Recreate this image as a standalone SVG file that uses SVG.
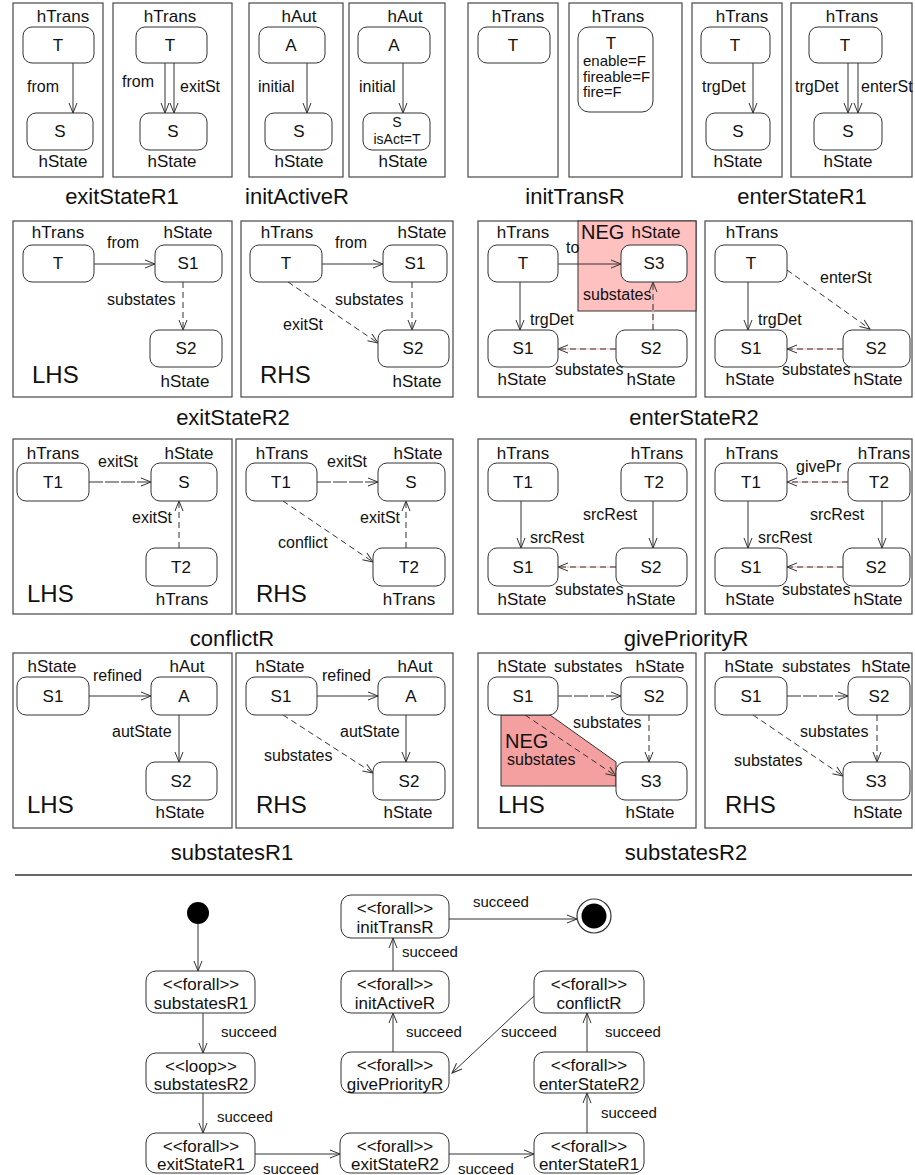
<svg xmlns="http://www.w3.org/2000/svg" width="915" height="1175" viewBox="0 0 915 1175">
<style>
text{font-family:"Liberation Sans",Arial,sans-serif;fill:#111}
.fr{fill:#fff;stroke:#555;stroke-width:1.3}
.nd{fill:#fff;stroke:#333;stroke-width:1}
.ty{font-size:17px;text-anchor:middle}
.lb{font-size:16px}
.at{font-size:15px}
.nl{font-size:17px;text-anchor:middle}
.cap{font-size:22px;text-anchor:middle}
.side{font-size:24px}
.neg{font-size:20px}
.e{fill:none;stroke:#333;stroke-width:1;marker-end:url(#arr)}
.d{stroke-dasharray:6 4}
.ld{stroke-dasharray:14 2}
.pk{fill:none;stroke:#f2b4b4;stroke-width:1}
.fn{font-size:17px;text-anchor:middle}
.sc{font-size:15px}
</style>
<defs>
<marker id="arr" markerWidth="13" markerHeight="10" refX="11" refY="5" orient="auto" markerUnits="userSpaceOnUse">
<path d="M1,1 L11,5 L1,9" fill="none" stroke="#333" stroke-width="1"/>
</marker>
</defs>
<rect width="915" height="1175" fill="#fff"/>

<g id="frames">
<rect class="fr" x="13" y="3" width="90" height="174"/>
<rect class="fr" x="113" y="3" width="119" height="174"/>
<rect class="fr" x="249" y="3" width="94" height="174"/>
<rect class="fr" x="349" y="3" width="96" height="174"/>
<rect class="fr" x="468" y="3" width="90" height="174"/>
<rect class="fr" x="569" y="3" width="113" height="174"/>
<rect class="fr" x="692" y="3" width="90" height="174"/>
<rect class="fr" x="791" y="3" width="121" height="174"/>
<rect class="fr" x="13" y="221" width="219" height="176"/>
<rect class="fr" x="241" y="221" width="212" height="176"/>
<rect class="fr" x="478" y="221" width="218" height="176"/>
<rect class="fr" x="705" y="221" width="207" height="176"/>
<rect class="fr" x="13" y="439" width="219" height="175"/>
<rect class="fr" x="236" y="439" width="217" height="175"/>
<rect class="fr" x="478" y="439" width="218" height="175"/>
<rect class="fr" x="705" y="439" width="207" height="175"/>
<rect class="fr" x="13" y="653" width="219" height="175"/>
<rect class="fr" x="236" y="653" width="217" height="175"/>
<rect class="fr" x="478" y="653" width="218" height="175"/>
<rect class="fr" x="705" y="653" width="207" height="175"/>
<rect x="578" y="221" width="118" height="90" fill="#ffc0c0" stroke="#333" stroke-width="1"/>
<polygon points="501,715 550,715 616,762 616,786 501,786" fill="#f4a0a0" stroke="#333" stroke-width="1"/>
<line x1="15" y1="875" x2="912" y2="875" stroke="#333" stroke-width="1.3"/>
</g>

<g id="captions">
<text class="cap" x="122" y="204">exitStateR1</text>
<text class="cap" x="297" y="204">initActiveR</text>
<text class="cap" x="575" y="204">initTransR</text>
<text class="cap" x="802" y="204">enterStateR1</text>
<text class="cap" x="233" y="425">exitStateR2</text>
<text class="cap" x="694" y="425">enterStateR2</text>
<text class="cap" x="232" y="646">conflictR</text>
<text class="cap" x="686" y="646">givePriorityR</text>
<text class="cap" x="232" y="860">substatesR1</text>
<text class="cap" x="686" y="860">substatesR2</text>
<text class="side" x="32" y="383">LHS</text>
<text class="side" x="260" y="383">RHS</text>
<text class="side" x="27" y="602">LHS</text>
<text class="side" x="256" y="602">RHS</text>
<text class="side" x="27" y="813">LHS</text>
<text class="side" x="256" y="813">RHS</text>
<text class="side" x="498" y="813">LHS</text>
<text class="side" x="725" y="813">RHS</text>
<text class="neg" x="581" y="239">NEG</text>
<text class="neg" x="505" y="748">NEG</text>
</g>

<g id="connectors">
<line class="e" x1="73" y1="63" x2="73" y2="113"/>
<text class="lb" x="27" y="92">from</text>
<line class="e" x1="165" y1="63" x2="165" y2="113"/>
<line class="e" x1="174" y1="63" x2="174" y2="113"/>
<text class="lb" x="122" y="87">from</text>
<text class="lb" x="180" y="92">exitSt</text>
<line class="e" x1="307" y1="63" x2="307" y2="113"/>
<text class="lb" x="258" y="92">initial</text>
<line class="e" x1="403" y1="63" x2="403" y2="113"/>
<text class="lb" x="359" y="92">initial</text>
<line class="e" x1="753" y1="63" x2="753" y2="113"/>
<text class="lb" x="702" y="92">trgDet</text>
<line class="e" x1="848" y1="63" x2="848" y2="113"/>
<line class="e" x1="858" y1="63" x2="858" y2="113"/>
<text class="lb" x="795" y="92">trgDet</text>
<text class="lb" x="861" y="92">enterSt</text>
<line class="e" x1="94" y1="264" x2="155" y2="264"/>
<text class="lb" x="107" y="248">from</text>
<line class="e d" x1="183" y1="282" x2="183" y2="330"/>
<text class="lb" x="107" y="305">substates</text>
<line class="e" x1="322" y1="264" x2="383" y2="264"/>
<text class="lb" x="335" y="248">from</text>
<line class="e d" x1="412" y1="282" x2="412" y2="330"/>
<text class="lb" x="335" y="305">substates</text>
<line class="e d" x1="288" y1="282" x2="378" y2="343"/>
<text class="lb" x="283" y="330">exitSt</text>
<line class="e" x1="558" y1="264" x2="621" y2="264"/>
<text class="lb" x="566" y="253">to</text>
<line class="e" x1="520" y1="282" x2="520" y2="330"/>
<text class="lb" x="530" y="325">trgDet</text>
<line class="pk" x1="616" y1="349" x2="560" y2="349"/>
<line class="e d" x1="616" y1="349" x2="558" y2="349"/>
<text class="lb" x="555" y="375">substates</text>
<line class="pk" x1="653" y1="330" x2="653" y2="290"/>
<line class="e d" x1="653" y1="330" x2="653" y2="282"/>
<text class="lb" x="583" y="300">substates</text>
<line class="e" x1="748" y1="282" x2="748" y2="330"/>
<text class="lb" x="758" y="325">trgDet</text>
<line class="e d" x1="787" y1="270" x2="870" y2="329"/>
<text class="lb" x="820" y="283">enterSt</text>
<line class="pk" x1="843" y1="349" x2="789" y2="349"/>
<line class="e d" x1="843" y1="349" x2="787" y2="349"/>
<text class="lb" x="782" y="375">substates</text>
<line class="e ld" x1="89" y1="482" x2="151" y2="482"/>
<text class="lb" x="98" y="467">exitSt</text>
<line class="e d" x1="179" y1="548" x2="179" y2="501"/>
<text class="lb" x="132" y="523">exitSt</text>
<line class="e ld" x1="317" y1="482" x2="378" y2="482"/>
<text class="lb" x="327" y="467">exitSt</text>
<line class="e d" x1="406" y1="548" x2="406" y2="501"/>
<text class="lb" x="360" y="523">exitSt</text>
<line class="e d" x1="283" y1="501" x2="373" y2="562"/>
<text class="lb" x="278" y="548">conflict</text>
<line class="e" x1="521" y1="501" x2="521" y2="548"/>
<text class="lb" x="530" y="543">srcRest</text>
<line class="e" x1="653" y1="501" x2="653" y2="548"/>
<text class="lb" x="583" y="520">srcRest</text>
<line class="pk" x1="616" y1="567" x2="560" y2="567"/>
<line class="e d" x1="616" y1="567" x2="558" y2="567"/>
<text class="lb" x="555" y="595">substates</text>
<line class="pk" x1="848" y1="482" x2="789" y2="482"/>
<line class="e d" x1="848" y1="482" x2="787" y2="482"/>
<text class="lb" x="796" y="472">givePr</text>
<line class="e" x1="748" y1="501" x2="748" y2="548"/>
<text class="lb" x="758" y="543">srcRest</text>
<line class="e" x1="882" y1="501" x2="882" y2="548"/>
<text class="lb" x="810" y="520">srcRest</text>
<line class="pk" x1="843" y1="567" x2="789" y2="567"/>
<line class="e d" x1="843" y1="567" x2="787" y2="567"/>
<text class="lb" x="782" y="595">substates</text>
<line class="e" x1="89" y1="696" x2="151" y2="696"/>
<text class="lb" x="93" y="681">refined</text>
<line class="e" x1="179" y1="715" x2="179" y2="762"/>
<text class="lb" x="112" y="737">autState</text>
<line class="e" x1="317" y1="696" x2="378" y2="696"/>
<text class="lb" x="322" y="681">refined</text>
<line class="e" x1="406" y1="715" x2="406" y2="762"/>
<text class="lb" x="340" y="737">autState</text>
<line class="e d" x1="283" y1="715" x2="373" y2="773"/>
<text class="lb" x="264" y="761">substates</text>
<line class="e ld" x1="558" y1="696" x2="621" y2="696"/>
<text class="lb" x="554" y="672">substates</text>
<line class="e d" x1="649" y1="715" x2="649" y2="762"/>
<text class="lb" x="573" y="728">substates</text>
<line class="e d" x1="525" y1="715" x2="616" y2="776"/>
<text class="lb" x="507" y="765">substates</text>
<line class="e ld" x1="787" y1="696" x2="848" y2="696"/>
<text class="lb" x="782" y="672">substates</text>
<line class="e d" x1="877" y1="715" x2="877" y2="762"/>
<text class="lb" x="800" y="737">substates</text>
<line class="e d" x1="753" y1="715" x2="843" y2="776"/>
<text class="lb" x="734" y="766">substates</text>
<line class="e" x1="198" y1="924" x2="198" y2="971"/>
<line class="e" x1="203" y1="1013" x2="203" y2="1053"/>
<text class="sc" x="221" y="1037">succeed</text>
<line class="e" x1="203" y1="1093" x2="203" y2="1133"/>
<text class="sc" x="217" y="1122">succeed</text>
<line class="e" x1="255" y1="1154" x2="340" y2="1154"/>
<text class="sc" x="263" y="1174">succeed</text>
<line class="e" x1="449" y1="1154" x2="534" y2="1154"/>
<text class="sc" x="458" y="1174">succeed</text>
<line class="e" x1="587" y1="1133" x2="587" y2="1093"/>
<text class="sc" x="601" y="1118">succeed</text>
<line class="e" x1="587" y1="1052" x2="587" y2="1013"/>
<text class="sc" x="605" y="1037">succeed</text>
<line class="e" x1="535" y1="995" x2="452" y2="1073"/>
<text class="sc" x="501" y="1037">succeed</text>
<line class="e" x1="393" y1="1052" x2="393" y2="1013"/>
<text class="sc" x="406" y="1037">succeed</text>
<line class="e" x1="393" y1="971" x2="393" y2="938"/>
<text class="sc" x="402" y="957">succeed</text>
<line class="e" x1="449" y1="919" x2="577" y2="919"/>
<text class="sc" x="473" y="907">succeed</text>
</g>

<g id="r1-T1"><text class="ty" x="63" y="22">hTrans</text><rect class="nd" x="23" y="27" width="71" height="36" rx="9"/><text class="nl" x="58" y="51">T</text></g>
<g id="r1-S1"><rect class="nd" x="27" y="113" width="66" height="37" rx="9"/><text class="nl" x="60" y="137">S</text><text class="ty" x="63" y="167">hState</text></g>
<g id="r1-T2"><text class="ty" x="170" y="22">hTrans</text><rect class="nd" x="136" y="27" width="71" height="36" rx="9"/><text class="nl" x="170" y="51">T</text></g>
<g id="r1-S2"><rect class="nd" x="140" y="113" width="67" height="37" rx="9"/><text class="nl" x="173" y="137">S</text><text class="ty" x="172" y="167">hState</text></g>
<g id="r1-A1"><text class="ty" x="299" y="22">hAut</text><rect class="nd" x="259" y="27" width="66" height="36" rx="9"/><text class="nl" x="291" y="51">A</text></g>
<g id="r1-S3"><rect class="nd" x="265" y="113" width="67" height="37" rx="9"/><text class="nl" x="299" y="137">S</text><text class="ty" x="299" y="167">hState</text></g>
<g id="r1-A2"><text class="ty" x="405" y="22">hAut</text><rect class="nd" x="358" y="27" width="72" height="36" rx="9"/><text class="nl" x="394" y="51">A</text></g>
<g id="r1-S4"><rect class="nd" x="363" y="113" width="67" height="37" rx="9"/><text class="nl" x="397" y="127" style="font-size:14px">S</text><text class="nl" x="397" y="144" style="font-size:14px">isAct=T</text><text class="ty" x="403" y="167">hState</text></g>
<g id="r1-T5"><text class="ty" x="518" y="22">hTrans</text><rect class="nd" x="478" y="27" width="72" height="36" rx="9"/><text class="nl" x="513" y="51">T</text></g>
<g id="r1-T6"><text class="ty" x="618" y="22">hTrans</text><rect class="nd" x="578" y="27" width="75" height="85" rx="11"/><text class="nl" x="611" y="49">T</text><text class="at" x="583" y="66">enable=F</text><text class="at" x="583" y="82">fireable=F</text><text class="at" x="583" y="97">fire=F</text></g>
<g id="r1-T7"><text class="ty" x="742" y="22">hTrans</text><rect class="nd" x="701" y="27" width="69" height="36" rx="9"/><text class="nl" x="735" y="51">T</text></g>
<g id="r1-S7"><rect class="nd" x="706" y="113" width="64" height="37" rx="9"/><text class="nl" x="738" y="137">S</text><text class="ty" x="738" y="167">hState</text></g>
<g id="r1-T8"><text class="ty" x="852" y="22">hTrans</text><rect class="nd" x="809" y="27" width="73" height="36" rx="9"/><text class="nl" x="845" y="51">T</text></g>
<g id="r1-S8"><rect class="nd" x="814" y="113" width="68" height="37" rx="9"/><text class="nl" x="848" y="137">S</text><text class="ty" x="848" y="167">hState</text></g>

<g id="es2L-T"><text class="ty" x="58" y="238">hTrans</text><rect class="nd" x="23" y="245" width="71" height="37" rx="9"/><text class="nl" x="58" y="269">T</text></g>
<g id="es2L-S1"><text class="ty" x="188" y="238">hState</text><rect class="nd" x="155" y="245" width="67" height="37" rx="9"/><text class="nl" x="188" y="269">S1</text></g>
<g id="es2L-S2"><rect class="nd" x="150" y="330" width="72" height="37" rx="9"/><text class="nl" x="186" y="354">S2</text><text class="ty" x="185" y="387">hState</text></g>
<g id="es2R-T"><text class="ty" x="287" y="238">hTrans</text><rect class="nd" x="250" y="245" width="72" height="37" rx="9"/><text class="nl" x="286" y="269">T</text></g>
<g id="es2R-S1"><text class="ty" x="422" y="238">hState</text><rect class="nd" x="383" y="245" width="64" height="37" rx="9"/><text class="nl" x="415" y="269">S1</text></g>
<g id="es2R-S2"><rect class="nd" x="378" y="330" width="71" height="37" rx="9"/><text class="nl" x="413" y="354">S2</text><text class="ty" x="417" y="387">hState</text></g>

<g id="en2L-T"><text class="ty" x="523" y="238">hTrans</text><rect class="nd" x="488" y="245" width="70" height="37" rx="9"/><text class="nl" x="523" y="269">T</text></g>
<g id="en2L-S3"><text class="ty" x="656" y="238">hState</text><rect class="nd" x="621" y="245" width="66" height="37" rx="9"/><text class="nl" x="654" y="269">S3</text></g>
<g id="en2L-S1"><rect class="nd" x="488" y="330" width="70" height="37" rx="9"/><text class="nl" x="523" y="354">S1</text><text class="ty" x="522" y="385">hState</text></g>
<g id="en2L-S2"><rect class="nd" x="616" y="330" width="71" height="37" rx="9"/><text class="nl" x="651" y="354">S2</text><text class="ty" x="651" y="385">hState</text></g>
<g id="en2R-T"><text class="ty" x="752" y="238">hTrans</text><rect class="nd" x="715" y="245" width="72" height="37" rx="9"/><text class="nl" x="751" y="269">T</text></g>
<g id="en2R-S1"><rect class="nd" x="715" y="330" width="72" height="37" rx="9"/><text class="nl" x="751" y="354">S1</text><text class="ty" x="750" y="385">hState</text></g>
<g id="en2R-S2"><rect class="nd" x="843" y="330" width="67" height="37" rx="9"/><text class="nl" x="876" y="354">S2</text><text class="ty" x="878" y="385">hState</text></g>

<g id="cfL-T1"><text class="ty" x="53" y="459">hTrans</text><rect class="nd" x="17" y="463" width="72" height="38" rx="9"/><text class="nl" x="53" y="488">T1</text></g>
<g id="cfL-S"><text class="ty" x="189" y="459">hState</text><rect class="nd" x="151" y="463" width="66" height="38" rx="9"/><text class="nl" x="184" y="488">S</text></g>
<g id="cfL-T2"><rect class="nd" x="146" y="548" width="71" height="38" rx="9"/><text class="nl" x="181" y="573">T2</text><text class="ty" x="182" y="605">hTrans</text></g>
<g id="cfR-T1"><text class="ty" x="282" y="459">hTrans</text><rect class="nd" x="246" y="463" width="71" height="38" rx="9"/><text class="nl" x="281" y="488">T1</text></g>
<g id="cfR-S"><text class="ty" x="418" y="459">hState</text><rect class="nd" x="378" y="463" width="67" height="38" rx="9"/><text class="nl" x="411" y="488">S</text></g>
<g id="cfR-T2"><rect class="nd" x="373" y="548" width="72" height="38" rx="9"/><text class="nl" x="409" y="573">T2</text><text class="ty" x="409" y="605">hTrans</text></g>

<g id="gpL-T1"><text class="ty" x="523" y="459">hTrans</text><rect class="nd" x="488" y="463" width="70" height="38" rx="9"/><text class="nl" x="523" y="488">T1</text></g>
<g id="gpL-T2"><text class="ty" x="657" y="459">hTrans</text><rect class="nd" x="621" y="463" width="66" height="38" rx="9"/><text class="nl" x="654" y="488">T2</text></g>
<g id="gpL-S1"><rect class="nd" x="488" y="548" width="70" height="38" rx="9"/><text class="nl" x="523" y="573">S1</text><text class="ty" x="522" y="605">hState</text></g>
<g id="gpL-S2"><rect class="nd" x="616" y="548" width="71" height="38" rx="9"/><text class="nl" x="651" y="573">S2</text><text class="ty" x="651" y="605">hState</text></g>
<g id="gpR-T1"><text class="ty" x="752" y="459">hTrans</text><rect class="nd" x="715" y="463" width="72" height="38" rx="9"/><text class="nl" x="751" y="488">T1</text></g>
<g id="gpR-T2"><text class="ty" x="884" y="459">hTrans</text><rect class="nd" x="848" y="463" width="62" height="38" rx="9"/><text class="nl" x="879" y="488">T2</text></g>
<g id="gpR-S1"><rect class="nd" x="715" y="548" width="72" height="38" rx="9"/><text class="nl" x="751" y="573">S1</text><text class="ty" x="750" y="605">hState</text></g>
<g id="gpR-S2"><rect class="nd" x="843" y="548" width="67" height="38" rx="9"/><text class="nl" x="876" y="573">S2</text><text class="ty" x="878" y="605">hState</text></g>

<g id="s1L-S1"><text class="ty" x="52" y="672">hState</text><rect class="nd" x="17" y="677" width="72" height="38" rx="9"/><text class="nl" x="53" y="702">S1</text></g>
<g id="s1L-A"><text class="ty" x="187" y="672">hAut</text><rect class="nd" x="151" y="677" width="66" height="38" rx="9"/><text class="nl" x="184" y="702">A</text></g>
<g id="s1L-S2"><rect class="nd" x="146" y="762" width="71" height="38" rx="9"/><text class="nl" x="181" y="787">S2</text><text class="ty" x="180" y="818">hState</text></g>
<g id="s1R-S1"><text class="ty" x="280" y="672">hState</text><rect class="nd" x="246" y="677" width="71" height="38" rx="9"/><text class="nl" x="281" y="702">S1</text></g>
<g id="s1R-A"><text class="ty" x="415" y="672">hAut</text><rect class="nd" x="378" y="677" width="67" height="38" rx="9"/><text class="nl" x="411" y="702">A</text></g>
<g id="s1R-S2"><rect class="nd" x="373" y="762" width="72" height="38" rx="9"/><text class="nl" x="409" y="787">S2</text><text class="ty" x="408" y="818">hState</text></g>

<g id="s2L-S1"><text class="ty" x="522" y="672">hState</text><rect class="nd" x="488" y="677" width="70" height="38" rx="9"/><text class="nl" x="523" y="702">S1</text></g>
<g id="s2L-S2"><text class="ty" x="660" y="672">hState</text><rect class="nd" x="621" y="677" width="66" height="38" rx="9"/><text class="nl" x="654" y="702">S2</text></g>
<g id="s2L-S3"><rect class="nd" x="616" y="762" width="71" height="38" rx="9"/><text class="nl" x="651" y="787">S3</text><text class="ty" x="650" y="818">hState</text></g>
<g id="s2R-S1"><text class="ty" x="749" y="672">hState</text><rect class="nd" x="715" y="677" width="72" height="38" rx="9"/><text class="nl" x="751" y="702">S1</text></g>
<g id="s2R-S2"><text class="ty" x="886" y="672">hState</text><rect class="nd" x="848" y="677" width="62" height="38" rx="9"/><text class="nl" x="879" y="702">S2</text></g>
<g id="s2R-S3"><rect class="nd" x="843" y="762" width="67" height="38" rx="9"/><text class="nl" x="876" y="787">S3</text><text class="ty" x="878" y="818">hState</text></g>

<g id="start"><circle cx="198" cy="913" r="11" fill="#000"/></g>
<g id="final"><circle cx="594" cy="916" r="17" fill="#fff" stroke="#333" stroke-width="1.2"/><circle cx="594" cy="916" r="12.5" fill="#000"/></g>
<g id="f-substatesR1"><rect class="nd" x="146" y="971" width="109" height="42" rx="10"/><text class="fn" x="201" y="990">&lt;&lt;forall&gt;&gt;</text><text class="fn" x="201" y="1009">substatesR1</text></g>
<g id="f-substatesR2"><rect class="nd" x="146" y="1053" width="109" height="40" rx="10"/><text class="fn" x="201" y="1072">&lt;&lt;loop&gt;&gt;</text><text class="fn" x="201" y="1090">substatesR2</text></g>
<g id="f-exitStateR1"><rect class="nd" x="146" y="1133" width="109" height="40" rx="10"/><text class="fn" x="201" y="1152">&lt;&lt;forall&gt;&gt;</text><text class="fn" x="201" y="1170">exitStateR1</text></g>
<g id="f-exitStateR2"><rect class="nd" x="340" y="1133" width="109" height="40" rx="10"/><text class="fn" x="395" y="1152">&lt;&lt;forall&gt;&gt;</text><text class="fn" x="395" y="1170">exitStateR2</text></g>
<g id="f-enterStateR1"><rect class="nd" x="534" y="1133" width="110" height="40" rx="10"/><text class="fn" x="589" y="1152">&lt;&lt;forall&gt;&gt;</text><text class="fn" x="589" y="1170">enterStateR1</text></g>
<g id="f-enterStateR2"><rect class="nd" x="534" y="1052" width="110" height="41" rx="10"/><text class="fn" x="589" y="1071">&lt;&lt;forall&gt;&gt;</text><text class="fn" x="589" y="1090">enterStateR2</text></g>
<g id="f-conflictR"><rect class="nd" x="534" y="971" width="110" height="42" rx="10"/><text class="fn" x="589" y="990">&lt;&lt;forall&gt;&gt;</text><text class="fn" x="589" y="1009">conflictR</text></g>
<g id="f-givePriorityR"><rect class="nd" x="341" y="1052" width="108" height="41" rx="10"/><text class="fn" x="395" y="1071">&lt;&lt;forall&gt;&gt;</text><text class="fn" x="395" y="1090">givePriorityR</text></g>
<g id="f-initActiveR"><rect class="nd" x="341" y="971" width="108" height="42" rx="10"/><text class="fn" x="395" y="990">&lt;&lt;forall&gt;&gt;</text><text class="fn" x="395" y="1009">initActiveR</text></g>
<g id="f-initTransR"><rect class="nd" x="341" y="895" width="108" height="43" rx="10"/><text class="fn" x="395" y="914">&lt;&lt;forall&gt;&gt;</text><text class="fn" x="395" y="933">initTransR</text></g>
</svg>
